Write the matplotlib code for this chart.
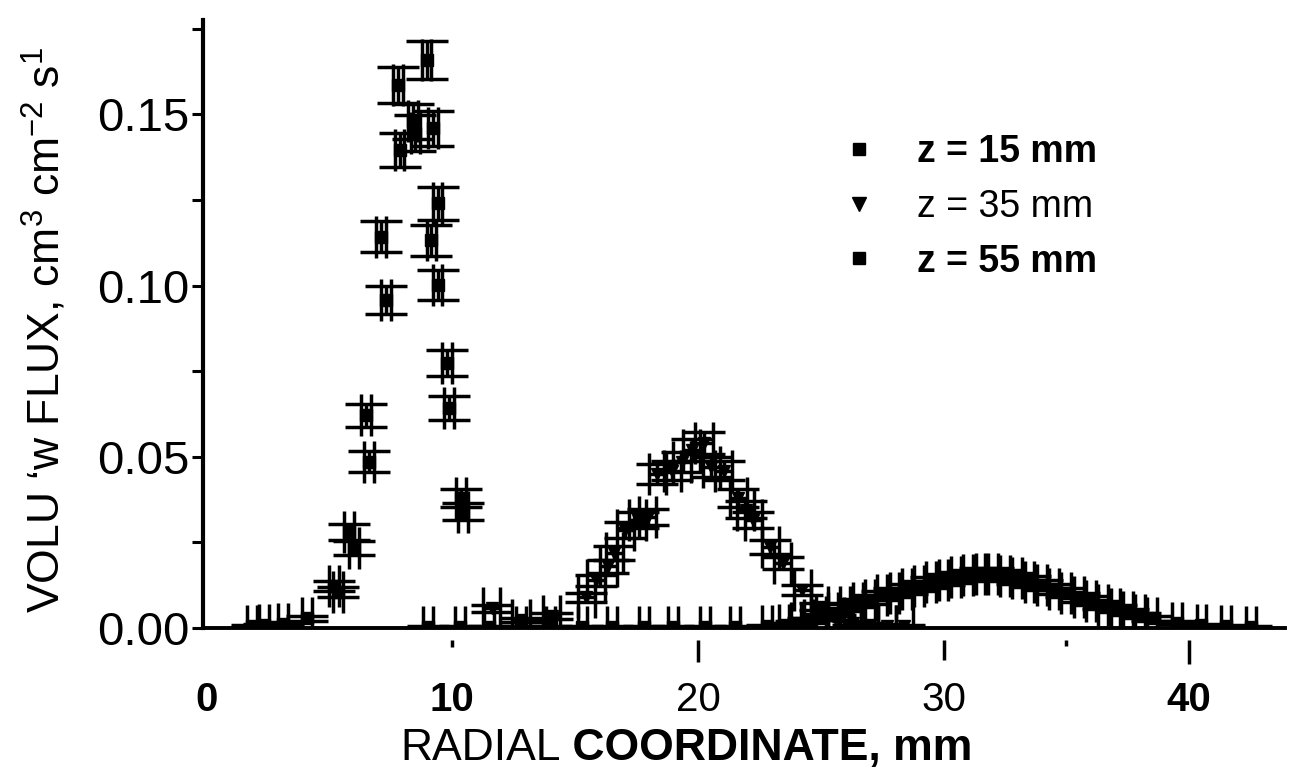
import numpy as np
import matplotlib
matplotlib.use('Agg')
import matplotlib.pyplot as plt
from matplotlib.lines import Line2D

plt.rcParams['font.family'] = ['Liberation Sans', 'DejaVu Sans']
plt.rcParams['mathtext.fontset'] = 'custom'
plt.rcParams['mathtext.rm'] = 'Liberation Sans'
plt.rcParams['mathtext.default'] = 'regular'

# ── Data ─────────────────────────────────────────────────────
x_z15 = [1.85, 2.35, 3.1, 4.1, 5.2, 5.35, 5.8, 6.0, 6.5, 6.6, 7.1, 7.3,
         7.8, 7.85, 8.4, 8.5, 8.95, 9.15, 9.2, 9.4, 9.4, 9.8, 9.85, 10.35, 10.45]
y_z15 = [0.0006, 0.0008, 0.0012, 0.0029, 0.0122, 0.0105, 0.0281, 0.0233,
         0.0622, 0.0486, 0.1143, 0.0958, 0.1586, 0.1396, 0.1480, 0.1446,
         0.1659, 0.1133, 0.1460, 0.1240, 0.1002, 0.0774, 0.0643, 0.0380, 0.0340]

x_z35 = [11.6, 12.8, 14.05, 15.45, 15.85, 16.35, 16.6, 17.05, 17.55, 17.95,
         18.35, 18.95, 19.35, 19.75, 20.25, 20.55, 21.05, 21.65, 21.95, 22.25,
         22.95, 23.45, 24.25, 24.95, 25.6, 26.3, 27.0, 27.7, 28.4]
y_z35 = [0.0058, 0.0023, 0.0035, 0.0090, 0.0140, 0.0180, 0.0220, 0.0286, 0.0315,
         0.0324, 0.0450, 0.0460, 0.0485, 0.0520, 0.0540, 0.0470, 0.0460, 0.0380,
         0.0345, 0.0315, 0.0237, 0.0190, 0.0110, 0.0062, 0.0030, 0.0015, 0.0010,
         0.0007, 0.0005]

x_z55 = [9.0, 10.3, 11.5, 12.8, 14.0, 15.3, 16.5, 17.8, 19.0, 20.3, 21.5, 22.8,
         23.5, 24.0, 24.5, 25.0, 25.5, 26.0, 26.5, 27.0, 27.5, 28.0, 28.5, 29.0,
         29.5, 30.0, 30.5, 31.0, 31.5, 32.0, 32.5, 33.0, 33.5, 34.0, 34.5, 35.0,
         35.5, 36.0, 36.5, 37.0, 37.5, 38.0, 38.5, 39.5, 40.5, 41.5, 42.5]
y_z55 = [0.0003, 0.0003, 0.0003, 0.0003, 0.0003, 0.0003, 0.0003, 0.0003, 0.0003,
         0.0003, 0.0004, 0.0005, 0.0010, 0.0015, 0.0022, 0.0032, 0.0045, 0.0060,
         0.0073, 0.0083, 0.0095, 0.0103, 0.0113, 0.0123, 0.0133, 0.0141, 0.0148,
         0.0154, 0.0158, 0.0157, 0.0153, 0.0145, 0.0135, 0.0126, 0.0114, 0.0103,
         0.0090, 0.0080, 0.0068, 0.0056, 0.0046, 0.0037, 0.0029, 0.0016, 0.0009,
         0.0006, 0.0004]

# error bars: counting error ~ sqrt(flux)
err_coef = 0.0135
xerr_mm = {'z15': 0.2, 'z35': 0.35, 'z55': 0.2}

legend_labels = ['z = 15 mm', 'z = 35 mm', 'z = 55 mm']
xtick_vals = [0, 10, 20, 30, 40]
xtick_marks = [10, 20, 30, 35, 40]
xtick_mark_len = [0.012, 0.036, 0.033, 0.010, 0.040]

# ── Figure ───────────────────────────────────────────────────
W, H = 1311, 769
fig = plt.figure(figsize=(W / 100, H / 100), dpi=100)
ax = fig.add_axes([203 / W, 141 / H, 1082 / W, 608 / H])

eb_kw = dict(color='k', ecolor='k', elinewidth=2.5, capsize=15, capthick=2.5,
             ls='none', ms=8)
for xs, ys, mk, key in [(x_z15, y_z15, 's', 'z15'),
                        (x_z35, y_z35, 'v', 'z35'),
                        (x_z55, y_z55, 's', 'z55')]:
    ys = np.array(ys)
    ax.errorbar(xs, ys, xerr=xerr_mm[key], yerr=err_coef * np.sqrt(ys),
                marker=mk, **eb_kw)

ax.set_xlim(-0.15, 43.9)
ax.set_ylim(0, 0.1776)

for s in ['top', 'right']:
    ax.spines[s].set_visible(False)
ax.spines['left'].set_linewidth(3)
ax.spines['bottom'].set_linewidth(2.8)

# y axis
ax.set_yticks([0.0, 0.05, 0.10, 0.15])
ax.set_yticklabels(['0.00', '0.05', '0.10', '0.15'])
ax.set_yticks([0.025, 0.075, 0.125, 0.175], minor=True)
ax.tick_params(axis='y', which='both', direction='out', length=8, width=2.2,
               labelsize=34, pad=2)

# x axis: labels only, tick marks drawn detached below the axis line
ax.set_xticks(xtick_vals)
ax.set_xticklabels([str(v) for v in xtick_vals])
ax.tick_params(axis='x', which='both', length=0, labelsize=29, pad=38)
for lbl, v in zip(ax.get_xticklabels(), xtick_vals):
    lbl.set_fontweight('bold' if v in (0, 10, 40) else 'normal')
trans = ax.get_xaxis_transform()
for t, L in zip(xtick_marks, xtick_mark_len):
    ax.plot([t, t], [-0.02, -0.02 - L], color='k', lw=2.5, transform=trans,
            clip_on=False, solid_capstyle='butt')

# axis titles
t1 = fig.text(400 / W, 1 - 760 / H, 'RADIAL', fontsize=32, ha='left', va='baseline')
ax.annotate(' COORDINATE, mm', xy=(1, 0), xycoords=t1, fontsize=32,
            fontweight='bold', ha='left', va='bottom')
fig.text(45 / W, 1 - 330 / H,
         r'VOLU ‘w FLUX, cm$^{3}$ cm$^{-2}$ s$^{1}$',
         rotation=90, fontsize=32, ha='center', va='center')

# legend
handles = [Line2D([], [], marker='s', ls='none', color='k', ms=8),
           Line2D([], [], marker='v', ls='none', color='k', ms=10),
           Line2D([], [], marker='s', ls='none', color='k', ms=8)]
leg = ax.legend(handles, legend_labels, loc='upper left',
                bbox_to_anchor=((840 - 203) / 1082, (628 - 134) / 608),
                frameon=False, fontsize=27, handlelength=1.0,
                handletextpad=1.05, labelspacing=0.5, borderpad=0,
                borderaxespad=0)
for txt, w in zip(leg.get_texts(), ['bold', 'normal', 'bold']):
    txt.set_fontweight(w)

plt.savefig('out.png', dpi=100)
plt.close()
